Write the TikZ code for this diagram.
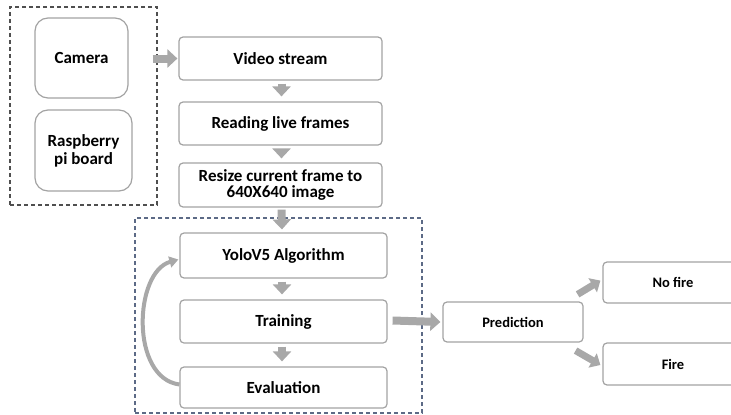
\documentclass[tikz,border=0pt]{standalone}
\usepackage{fontspec}
\setmainfont{Carlito}
\usetikzlibrary{arrows.meta}
\definecolor{boxline}{HTML}{A3A3A3}
\definecolor{arrowgray}{HTML}{A8A8A8}
\definecolor{groupdark}{HTML}{4F4F4F}
\definecolor{groupblue}{HTML}{5C6A86}
\tikzset{
  stage/.style={draw=boxline, line width=1.2pt, rounded corners=4pt, fill=white,
    font=\bfseries\fontsize{17}{17}\selectfont, align=center, inner sep=0pt},
  device/.style={stage, rounded corners=13pt},
  result/.style={stage, font=\bfseries\fontsize{14.5}{16}\selectfont},
  group/.style={draw, line width=1.4pt, dash pattern=on 4pt off 3pt, inner sep=0pt},
  flow/.style={draw=arrowgray, line width=8pt, -{Triangle[length=10pt,width=18pt]}},
  backflow/.style={draw=arrowgray, line width=4pt, -{Triangle[length=9pt,width=11pt]}},
}
\begin{document}
\begin{tikzpicture}[x=1pt,y=-1pt]
  \useasboundingbox (0,0) rectangle (731,415);
  \clip (0,0) rectangle (731,415);

  % grouping frames
  \node[group, draw=groupdark, minimum width=147pt, minimum height=198pt] (hw) at (83.5,106) {};
  \node[group, draw=groupblue, minimum width=287pt, minimum height=195pt] (model) at (278.5,315.5) {};

  % hardware
  \node[device, minimum width=93pt, minimum height=80pt] (cam) at (81.5,58) {Camera};
  \node[device, minimum width=97pt, minimum height=81pt, font=\bfseries\fontsize{17}{18}\selectfont] (pi) at (83.5,150.5) {Raspberry\\pi board};

  % capture pipeline
  \node[stage, minimum width=203pt, minimum height=43pt] (video) at (280.5,58.5) {Video stream};
  \node[stage, minimum width=203pt, minimum height=43pt] (read) at (280.5,123.5) {Reading live frames};
  \node[stage, minimum width=203pt, minimum height=44pt, font=\bfseries\fontsize{17}{16}\selectfont] (resize) at (280.5,185) {Resize current frame to\\640X640 image};

  % model
  \node[stage, minimum width=207pt, minimum height=45pt] (yolo) at (283.5,255.5) {YoloV5 Algorithm};
  \node[stage, minimum width=207pt, minimum height=43pt] (train) at (283.5,321.5) {Training};
  \node[stage, minimum width=207pt, minimum height=41pt] (eval) at (283.5,387.5) {Evaluation};

  % output
  \node[result, minimum width=140pt, minimum height=40pt] (pred) at (513,322) {Prediction};
  \node[result, minimum width=140pt, minimum height=41pt] (nofire) at (673,282.5) {No fire};
  \node[result, minimum width=140pt, minimum height=42pt] (fire) at (673,364) {Fire};

  % connectors
  \draw[flow] ([xshift=-5pt]hw.east |- video.west) -- ([xshift=-1pt]video.west);
  \draw[flow] ([xshift=1pt,yshift=-3pt]video.south) -- ([xshift=1pt,yshift=5pt]read.north);
  \draw[flow] ([xshift=1pt,yshift=-3pt]read.south) -- ([xshift=1pt,yshift=4pt]resize.north);
  \draw[flow] ([xshift=1pt,yshift=-2pt]resize.south) -- ([xshift=-1.5pt,yshift=3pt]yolo.north);
  \draw[flow] ([xshift=-1.5pt,yshift=-3pt]yolo.south) -- ([xshift=-1.5pt,yshift=5pt]train.north);
  \draw[flow] ([xshift=-1.5pt,yshift=-3pt]train.south) -- ([xshift=-1.5pt,yshift=5pt]eval.north);
  \draw[flow] ([xshift=5pt,yshift=1pt]train.east) -- ([xshift=-2pt,yshift=0pt]pred.west);
  \draw[flow, line width=7pt, -{Triangle[length=9pt,width=16pt]}] ([xshift=-6pt,yshift=7pt]pred.north east) -- ([xshift=-2pt,yshift=23pt]nofire.south west);
  \draw[flow, line width=7pt, -{Triangle[length=9pt,width=16pt]}] ([xshift=-8pt,yshift=-8pt]pred.south east) -- ([xshift=-2pt,yshift=-1pt]fire.west);
  \draw[backflow] ([yshift=3pt]eval.west) .. controls (130,378) and (134,272) .. ([xshift=-1pt,yshift=-4pt]yolo.west);
\end{tikzpicture}
\end{document}
